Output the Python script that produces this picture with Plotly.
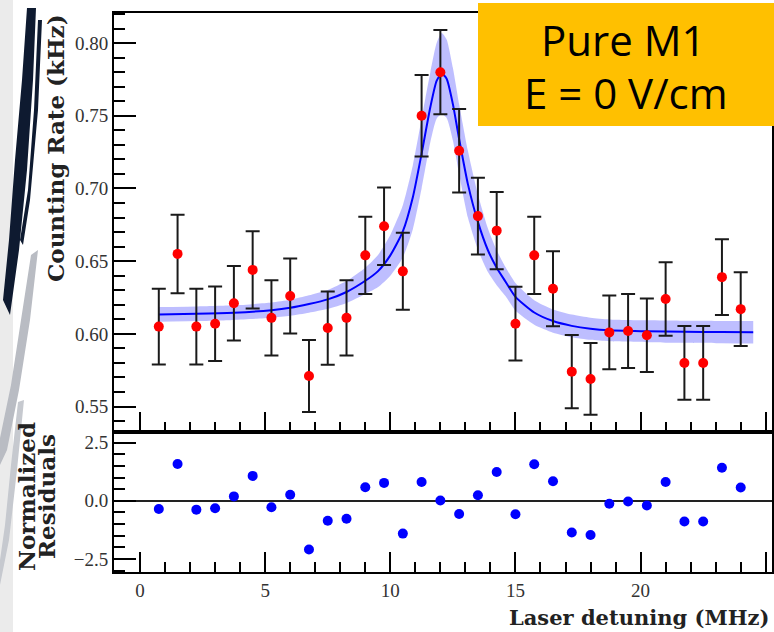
import plotly.graph_objects as go

# ---------------- data ----------------
detuning = [0.75, 1.5, 2.25, 3.0, 3.75, 4.5, 5.25, 6.0, 6.75, 7.5, 8.25, 9.0,
            9.75, 10.5, 11.25, 12.0, 12.75, 13.5, 14.25, 15.0, 15.75, 16.5,
            17.25, 18.0, 18.75, 19.5, 20.25, 21.0, 21.75, 22.5, 23.25, 24.0]
rate = [0.605, 0.655, 0.605, 0.607, 0.621, 0.644, 0.611, 0.626, 0.571, 0.604,
        0.611, 0.654, 0.674, 0.643, 0.750, 0.780, 0.726, 0.681, 0.671, 0.607,
        0.654, 0.631, 0.574, 0.569, 0.601, 0.602, 0.599, 0.624, 0.580, 0.580,
        0.639, 0.617]
rate_err = [0.026, 0.027, 0.026, 0.0256, 0.0256, 0.0265, 0.0259, 0.0258, 0.0247,
            0.0252, 0.0259, 0.0265, 0.0267, 0.0265, 0.028, 0.029, 0.0287, 0.0264,
            0.0265, 0.0254, 0.0265, 0.0258, 0.0252, 0.0247, 0.0254, 0.0254,
            0.0253, 0.0253, 0.0254, 0.0254, 0.0261, 0.0253]
residuals = [-0.35, 1.58, -0.38, -0.32, 0.19, 1.07, -0.28, 0.26, -2.09, -0.86,
             -0.77, 0.58, 0.77, -1.41, 0.81, 0.01, -0.57, 0.24, 1.24, -0.58,
             1.57, 0.84, -1.36, -1.47, -0.13, -0.03, -0.20, 0.81, -0.89, -0.89,
             1.42, 0.57]

# fit curve and its confidence band
fit_x = [0.75, 2.25, 3.75, 5.25, 6.0, 6.75, 7.5, 8.25, 9.0, 9.5, 10.0, 10.5,
         10.9, 11.25, 11.6, 11.85, 12.05, 12.25, 12.5, 12.75, 13.1, 13.5, 13.9,
         14.25, 14.6, 15.0, 15.75, 16.5, 17.25, 18.0, 18.75, 20.25, 21.75,
         23.25, 24.5]
fit_y = [0.6134, 0.6138, 0.6146, 0.6163, 0.6179, 0.6205, 0.6237, 0.6288, 0.6365,
         0.6430, 0.6540, 0.6705, 0.6940, 0.7240, 0.7560, 0.7740, 0.7790, 0.7755,
         0.7580, 0.7340, 0.7030, 0.6770, 0.6575, 0.6455, 0.6360, 0.6255, 0.6147,
         0.6088, 0.6055, 0.6035, 0.6024, 0.6018, 0.6014, 0.6012, 0.6011]
band_half = [0.005, 0.005, 0.005, 0.0052, 0.0055, 0.006, 0.0065, 0.0075, 0.009,
             0.011, 0.014, 0.018, 0.022, 0.024, 0.024, 0.026, 0.028, 0.027,
             0.025, 0.024, 0.023, 0.019, 0.015, 0.012, 0.010, 0.0095, 0.0085,
             0.008, 0.0078, 0.0076, 0.0075, 0.0075, 0.0076, 0.0077, 0.0078]

x_title = "Laser detuning (MHz)"
y_title_top = "Counting Rate (kHz)"
y_title_bot = ["Normalized", "Residuals"]
box_lines = ["Pure M1", "E = 0 V/cm"]

# ---------------- layout geometry ----------------
W, H = 774, 632
ML, MR, MT, MB = 114, 2, 13, 60
PW, PH = W - ML - MR, H - MT - MB
split = 140.3 / PH


def px(X):
    return (X - ML) / PW


def py(Y):
    return (H - MB - Y) / PH


band_upper = [f + b for f, b in zip(fit_y, band_half)]
band_lower = [f - b for f, b in zip(fit_y, band_half)]

fig = go.Figure()
fig.add_trace(go.Scatter(
    x=fit_x, y=band_lower, mode="lines",
    line=dict(width=0, shape="spline", smoothing=0.6), xaxis="x2", yaxis="y2",
    hoverinfo="skip", showlegend=False))
fig.add_trace(go.Scatter(
    x=fit_x, y=band_upper, mode="lines", fill="tonexty",
    fillcolor="rgba(40,40,255,0.30)",
    line=dict(width=0, shape="spline", smoothing=0.6), xaxis="x2", yaxis="y2",
    hoverinfo="skip", showlegend=False))
fig.add_trace(go.Scatter(
    x=fit_x, y=fit_y, mode="lines",
    line=dict(color="#0000ff", width=2, shape="spline", smoothing=0.6),
    xaxis="x2", yaxis="y2", showlegend=False))
fig.add_trace(go.Scatter(
    x=detuning, y=rate, mode="markers",
    marker=dict(color="#ff0000", size=10),
    error_y=dict(type="data", array=rate_err, color="#1a1a1a", thickness=2, width=7),
    xaxis="x2", yaxis="y2", showlegend=False))
fig.add_trace(go.Scatter(
    x=detuning, y=residuals, mode="markers",
    marker=dict(color="#0000ff", size=10),
    xaxis="x", yaxis="y", showlegend=False))

tickfont = dict(family="Liberation Serif", size=19, color="#333333")
common_x = dict(range=[-1.04, 25.25], showline=True, mirror=True, linecolor="black",
                linewidth=2, ticks="inside", ticklen=20, tickwidth=2, tickcolor="black",
                tick0=0, dtick=5, showgrid=False, zeroline=False, tickfont=tickfont,
                automargin=False,
                minor=dict(ticks="inside", ticklen=10, tickwidth=2, tickcolor="black",
                           tick0=0, dtick=1, showgrid=False))

fig.update_layout(
    template="none",
    width=W, height=H, margin=dict(l=ML, r=MR, t=MT, b=MB, pad=0),
    paper_bgcolor="white", plot_bgcolor="white", showlegend=False,
    xaxis=dict(domain=[0, 1], anchor="y", **common_x),
    xaxis2=dict(domain=[0, 1], anchor="y2", matches="x", showticklabels=False, **common_x),
    yaxis=dict(domain=[0, split], anchor="x", range=[-3.06, 2.97], showline=True, mirror=True,
               linecolor="black", linewidth=2, ticks="inside", ticklen=22, tickwidth=2,
               tickcolor="black", tick0=0, dtick=2.5, tickformat=".1f", showgrid=False,
               zeroline=True, zerolinecolor="#222222", zerolinewidth=2, tickfont=tickfont,
               automargin=False,
               minor=dict(ticks="inside", ticklen=11, tickwidth=2, tickcolor="black",
                          tick0=0, dtick=0.5, showgrid=False)),
    yaxis2=dict(domain=[split, 1], anchor="x2", range=[0.5327, 0.8207], showline=True,
                mirror=True, linecolor="black", linewidth=2, ticks="inside", ticklen=22,
                tickwidth=2, tickcolor="black", tick0=0.5, dtick=0.05, tickformat=".2f",
                showgrid=False, zeroline=False, tickfont=tickfont, automargin=False,
                minor=dict(ticks="inside", ticklen=11, tickwidth=2, tickcolor="black",
                           tick0=0.5, dtick=0.01, showgrid=False)),
)

title_font = dict(family="DejaVu Serif", size=23, color="#222222")
ann = [
    dict(text="<b>%s</b>" % y_title_top, x=px(55), y=py(12), xref="paper", yref="paper",
         xanchor="center", yanchor="top", textangle=-90, showarrow=False, font=title_font),
    dict(text="<b>%s</b>" % y_title_bot[0], x=px(26), y=py(497), xref="paper", yref="paper",
         xanchor="center", yanchor="middle", textangle=-90, showarrow=False, font=title_font),
    dict(text="<b>%s</b>" % y_title_bot[1], x=px(46), y=py(497), xref="paper", yref="paper",
         xanchor="center", yanchor="middle", textangle=-90, showarrow=False, font=title_font),
    dict(text="<b>%s</b>" % x_title, x=px(771), y=py(617), xref="paper", yref="paper",
         xanchor="right", yanchor="middle", showarrow=False,
         font=dict(family="DejaVu Serif", size=21, color="#222222")),
    dict(text=box_lines[0], x=px(623), y=py(40), xref="paper", yref="paper",
         xanchor="center", yanchor="middle", showarrow=False,
         font=dict(family="Open Sans", size=42, color="black")),
    dict(text=box_lines[1], x=px(626), y=py(92), xref="paper", yref="paper",
         xanchor="center", yanchor="middle", showarrow=False,
         font=dict(family="Open Sans", size=42, color="black")),
]
fig.update_layout(annotations=ann)


def path(points):
    s = "M %f,%f" % (px(points[0][0]), py(points[0][1]))
    for X, Y in points[1:]:
        s += " L %f,%f" % (px(X), py(Y))
    return s + " Z"


shapes = [
    # orange label box
    dict(type="rect", xref="paper", yref="paper", x0=px(478), x1=px(776), y0=py(3), y1=py(126),
         fillcolor="#ffc000", line=dict(width=0), layer="above"),
    # slide decoration on the left edge
    dict(type="rect", xref="paper", yref="paper", x0=px(0), x1=px(13), y0=py(0), y1=py(632),
         fillcolor="#ebebeb", line=dict(width=0), layer="below"),
    dict(type="path", xref="paper", yref="paper", layer="below", line=dict(width=0),
         fillcolor="#0e1a30",
         path=path([(36, 8), (33, 80), (27, 170), (19, 250), (10, 315), (3, 300),
                    (9, 240), (15, 160), (22, 80), (27, 8)])),
    dict(type="path", xref="paper", yref="paper", layer="below", line=dict(width=0),
         fillcolor="#0e1a30",
         path=path([(42, 20), (38, 110), (30, 200), (23, 245), (20, 240), (28, 190),
                    (34, 110), (38, 20)])),
    dict(type="path", xref="paper", yref="paper", layer="below", line=dict(width=0),
         fillcolor="#b9bcc3",
         path=path([(38, 250), (30, 320), (19, 390), (7, 450), (0, 465), (0, 438),
                    (11, 385), (21, 320), (31, 255)])),
    dict(type="path", xref="paper", yref="paper", layer="below", line=dict(width=0),
         fillcolor="#c6c9cf",
         path=path([(24, 400), (17, 470), (9, 540), (0, 585), (0, 560), (5, 525),
                    (11, 465), (18, 402)])),
]
fig.update_layout(shapes=shapes)

fig.write_html("out.html", config={"displayModeBar": False},
               post_script="document.body.style.margin='0';document.body.style.padding='0';")
